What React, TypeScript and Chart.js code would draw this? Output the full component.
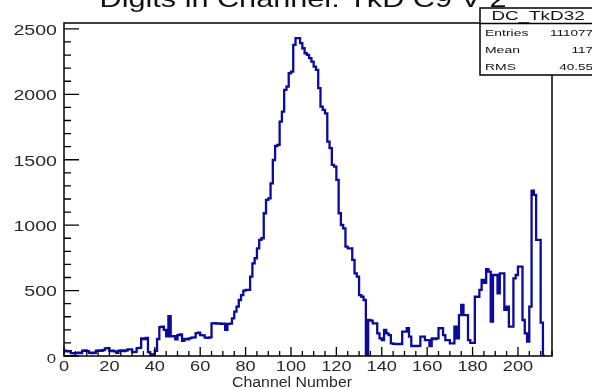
import { useEffect, useRef } from 'react';
import { Chart, registerables } from 'chart.js';

Chart.register(...registerables);

const TITLE = 'Digits in Channel: TkD C9 V 2';
const X_AXIS_TITLE = 'Channel Number';
const STATS_NAME = 'DC_TkD32';
const STATS_LABELS = ['Entries', 'Mean', 'RMS'];
const STATS_VALUES = ['111077', '117', '40.55'];

const X_MIN = 0;
const X_MAX = 215;
const Y_MIN = 0;
const Y_MAX = 2545;
const X_TICKS = [0, 20, 40, 60, 80, 100, 120, 140, 160, 180, 200];
const Y_TICKS = [0, 500, 1000, 1500, 2000, 2500];
const X_MINOR_STEP = 5;
const Y_MINOR_STEP = 100;

// counts per channel, channel 0 .. 211
const channelCounts = [
  38, 40, 35, 38, 22, 20, 22, 25, 22, 40,
  42, 38, 25, 22, 25, 40, 42, 40, 45, 58,
  60, 38, 40, 36, 25, 40, 42, 38, 42, 50,
  50, 30, 32, 60, 62, 135, 130, 138, 30, 10,
  12, 40, 130, 220, 225, 200, 150, 305, 150, 152,
  128, 160, 165, 115, 130, 128, 135, 140, 142, 175,
  178, 160, 158, 140, 138, 142, 250, 252, 248, 250,
  245, 248, 200, 245, 248, 288, 339, 377, 428, 466,
  499, 505, 505, 606, 708, 747, 823, 887, 900, 1091,
  1193, 1205, 1320, 1498, 1605, 1613, 1791, 1868, 2034, 2059,
  2161, 2174, 2378, 2429, 2429, 2391, 2352, 2314, 2301, 2276,
  2250, 2212, 2187, 2047, 1906, 1881, 1855, 1638, 1588, 1460,
  1447, 1346, 1091, 1001, 976, 836, 823, 823, 734, 632,
  606, 466, 453, 428, 0, 275, 270, 250, 250, 173,
  135, 122, 199, 173, 160, 97, 92, 90, 92, 90,
  186, 186, 212, 148, 76, 78, 76, 78, 148, 148,
  122, 122, 76, 135, 130, 135, 212, 212, 160, 122,
  122, 97, 97, 225, 135, 313, 390, 313, 313, 122,
  100, 100, 453, 453, 505, 581, 560, 663, 645, 262,
  619, 619, 479, 632, 632, 352, 377, 224, 224, 594,
  619, 683, 683, 275, 173, 110, 377, 1264, 1231, 887,
  887, 255,
];

const LINE_COLOR = '#0a0a9c';
const TEXT_COLOR = '#2a2a2a';
const FONT = '"Liberation Sans", Arial, Helvetica, sans-serif';

function stretchedText(
  ctx: CanvasRenderingContext2D,
  text: string,
  x: number,
  y: number,
  size: number,
  sx: number,
  align: CanvasTextAlign,
  baseline: CanvasTextBaseline,
) {
  ctx.save();
  ctx.font = `${size}px ${FONT}`;
  ctx.textAlign = align;
  ctx.textBaseline = baseline;
  ctx.translate(x, y);
  ctx.scale(sx, 1);
  ctx.fillText(text, 0, 0);
  ctx.restore();
}

function fitText(
  ctx: CanvasRenderingContext2D,
  text: string,
  cx: number,
  y: number,
  size: number,
  width: number,
) {
  ctx.save();
  ctx.font = `${size}px ${FONT}`;
  const w = ctx.measureText(text).width;
  ctx.textAlign = 'center';
  ctx.textBaseline = 'alphabetic';
  ctx.translate(cx, y);
  ctx.scale(width / w, 1);
  ctx.fillText(text, 0, 0);
  ctx.restore();
}

const rootFramePlugin = {
  id: 'rootFrame',
  afterDraw(chart: any) {
    const ctx: CanvasRenderingContext2D = chart.ctx;
    const { left, right, top, bottom } = chart.chartArea;
    const xs = chart.scales.x;
    const ys = chart.scales.y;
    ctx.save();
    ctx.strokeStyle = '#000';
    ctx.lineWidth = 1.5;
    ctx.strokeRect(left, top, right - left, bottom - top);

    // ticks inside the frame
    ctx.lineWidth = 1.3;
    ctx.beginPath();
    for (let v = X_MIN; v <= X_MAX; v += X_MINOR_STEP) {
      const px = xs.getPixelForValue(v);
      const major = X_TICKS.includes(v);
      ctx.moveTo(px, bottom);
      ctx.lineTo(px, bottom - (major ? 9 : 5));
    }
    for (let v = Y_MIN; v <= Y_MAX; v += Y_MINOR_STEP) {
      const py = ys.getPixelForValue(v);
      const major = Y_TICKS.includes(v);
      ctx.moveTo(left, py);
      ctx.lineTo(left + (major ? 15 : 7), py);
    }
    ctx.stroke();

    // tick labels
    ctx.fillStyle = TEXT_COLOR;
    X_TICKS.forEach((v) => {
      stretchedText(ctx, String(v), xs.getPixelForValue(v), bottom + 11, 14, 1.3, 'center', 'middle');
    });
    Y_TICKS.forEach((v) => {
      const py = ys.getPixelForValue(v);
      if (v === 0) {
        stretchedText(ctx, String(v), left - 8, py + 4, 12, 1.4, 'right', 'middle');
      } else {
        stretchedText(ctx, String(v), left - 7, py + 2, 14, 1.4, 'right', 'middle');
      }
    });

    // axis title
    fitText(ctx, X_AXIS_TITLE, 292, 387, 14, 120);

    // main title (cut off at the top edge)
    ctx.fillStyle = '#111';
    fitText(ctx, TITLE, 303, 7, 24, 407);

    // stats box
    const bx = 480;
    const by = 8;
    ctx.fillStyle = '#fff';
    ctx.fillRect(bx, by, 130, 67);
    ctx.strokeStyle = '#000';
    ctx.lineWidth = 1.5;
    ctx.strokeRect(bx, by, 130, 67);
    ctx.beginPath();
    ctx.moveTo(bx, 23.5);
    ctx.lineTo(bx + 130, 23.5);
    ctx.stroke();
    ctx.fillStyle = '#111';
    stretchedText(ctx, STATS_NAME, 538, 16, 13, 1.45, 'center', 'middle');
    const rowY = [33.5, 51, 68];
    STATS_LABELS.forEach((lab, i) => {
      stretchedText(ctx, lab, 485, rowY[i], 9, 1.55, 'left', 'middle');
      stretchedText(ctx, STATS_VALUES[i], 593, rowY[i], 9, 1.5, 'right', 'middle');
    });
    ctx.restore();
  },
};

export default function App() {
  const canvasRef = useRef<HTMLCanvasElement | null>(null);

  useEffect(() => {
    const canvas = canvasRef.current;
    if (!canvas) return;
    const points = channelCounts.map((v, i) => ({ x: i, y: v }));
    points.push({ x: channelCounts.length, y: 0 });
    const chart = new Chart(canvas, {
      type: 'line',
      data: {
        datasets: [
          {
            data: points,
            stepped: 'after',
            borderColor: LINE_COLOR,
            borderWidth: 2.3,
            pointRadius: 0,
            fill: false,
          },
        ],
      },
      options: {
        animation: false,
        responsive: false,
        devicePixelRatio: 1,
        layout: { padding: { left: 64, right: 40, top: 23, bottom: 33 } },
        plugins: {
          legend: { display: false },
          tooltip: { enabled: false },
          title: { display: false },
        },
        scales: {
          x: { type: 'linear', min: X_MIN, max: X_MAX, display: false },
          y: { type: 'linear', min: Y_MIN, max: Y_MAX, display: false },
        },
      },
      plugins: [rootFramePlugin],
    });
    return () => chart.destroy();
  }, []);

  return (
    <div style={{ position: 'fixed', left: 0, top: 0, width: 592, height: 389, background: '#fff' }}>
      <canvas ref={canvasRef} width={592} height={389} style={{ display: 'block' }} />
    </div>
  );
}
